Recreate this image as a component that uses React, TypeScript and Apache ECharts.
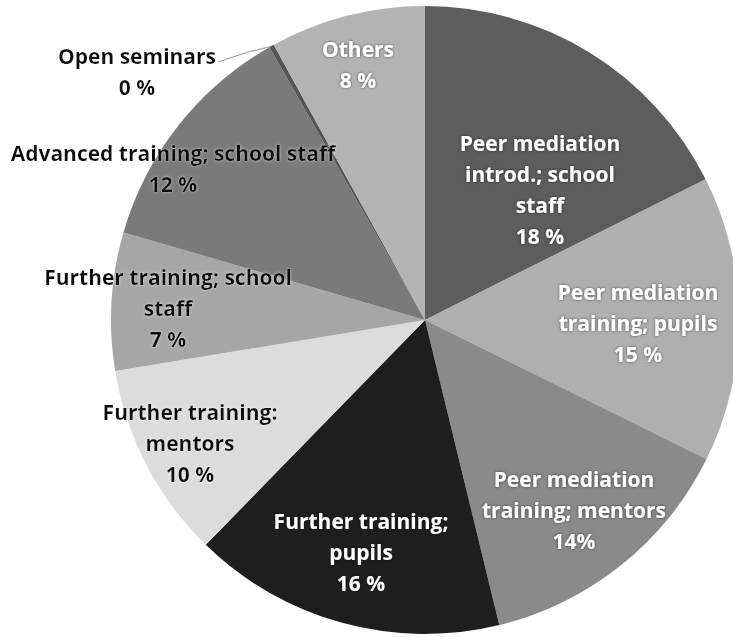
import React, { useEffect, useRef } from "react";
import * as echarts from "echarts";

const categories = [
  "Peer mediation introd.; school staff",
  "Peer mediation training; pupils",
  "Peer mediation training; mentors",
  "Further training; pupils",
  "Further training: mentors",
  "Further training; school staff",
  "Advanced training; school staff",
  "Open seminars",
  "Others",
];
const values = [17.6, 14.7, 13.9, 16.1, 10.1, 7.1, 12.25, 0.25, 8.0];
const labelTexts = [
  "Peer mediation\nintrod.; school\nstaff\n18 %",
  "Peer mediation\ntraining; pupils\n15 %",
  "Peer mediation\ntraining; mentors\n14%",
  "Further training;\npupils\n16 %",
  "Further training:\nmentors\n10 %",
  "Further training; school\nstaff\n7 %",
  "Advanced training; school staff\n12 %",
  "Open seminars\n0 %",
  "Others\n8 %",
];

// styling (kept apart from data)
const colors = ["#5d5d5d", "#afafaf", "#8a8a8a", "#1e1e1e", "#dcdcdc", "#a6a6a6", "#7a7a7a", "#555555", "#b3b3b3"];
const textColors = ["#ffffff", "#ffffff", "#ffffff", "#ffffff", "#111111", "#111111", "#111111", "#111111", "#ffffff"];
const labelPos: [number, number][] = [
  [540, 189],
  [638, 323],
  [574, 510],
  [361, 552],
  [190, 443],
  [168, 308],
  [173, 168],
  [137, 71],
  [358, 64],
];

export default function App() {
  const ref = useRef<HTMLDivElement>(null);
  useEffect(() => {
    if (!ref.current) return;
    const chart = echarts.init(ref.current, undefined, { renderer: "svg" });
    const data = categories.map((name, i) => ({
      name,
      value: values[i],
      itemStyle: { color: colors[i] },
      label: {
        color: textColors[i],
        textShadowColor: textColors[i] === "#ffffff" ? "rgba(0,0,0,0.55)" : "rgba(255,255,255,0.6)",
        textShadowBlur: 3,
        position: i === 7 ? "outside" : "inside",
      },
      labelLine: { show: i === 7, lineStyle: { color: "#a0a0a0", width: 1.2 } },
    }));
    chart.setOption({
      animation: false,
      backgroundColor: "#ffffff",
      series: [
        {
          type: "pie",
          center: [425, 320],
          radius: 314,
          startAngle: 90,
          clockwise: true,
          avoidLabelOverlap: false,
          data,
          label: {
            show: true,
            formatter: (p: any) => labelTexts[p.dataIndex],
            fontFamily: "Open Sans",
            fontWeight: "bold",
            fontSize: 21,
            lineHeight: 31,
            align: "center",
          },
          labelLayout: (p: any) => {
            const [x, y] = labelPos[p.dataIndex];
            const res: any = { x, y, align: "center", verticalAlign: "middle" };
            if (p.dataIndex === 7) {
              res.labelLinePoints = [
                [273, 46],
                [248, 52],
                [218, 62],
              ];
            }
            return res;
          },
          emphasis: { disabled: true },
        },
      ],
    });
    return () => chart.dispose();
  }, []);
  return (
    <div
      ref={ref}
      style={{ position: "absolute", left: 0, top: 0, width: 733, height: 637 }}
    />
  );
}
